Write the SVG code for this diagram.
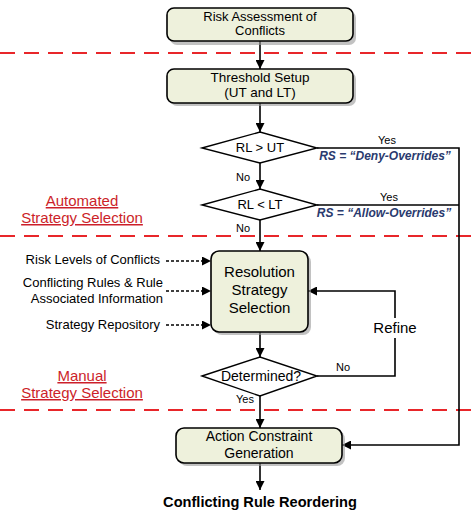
<svg xmlns="http://www.w3.org/2000/svg" width="476" height="513" viewBox="0 0 476 513">
<defs>
<marker id="ah" viewBox="0 0 10 10" refX="10" refY="5" markerWidth="9" markerHeight="9" markerUnits="userSpaceOnUse" orient="auto"><path d="M0,0 L10,5 L0,10 Z" fill="#000"/></marker>
<style>
.box{fill:#eef1dc;stroke:#000;stroke-width:1.6}
.sh{fill:#999;opacity:0.6}
.dia{fill:#fff;stroke:#000;stroke-width:1.4}
.t{font-family:"Liberation Sans",Arial,sans-serif;fill:#000;text-anchor:middle}
.ln{fill:none;stroke:#000;stroke-width:1.6}
.dot{fill:none;stroke:#000;stroke-width:1.4;stroke-dasharray:3 2}
.red{stroke:#e8262a;stroke-width:2;stroke-dasharray:15 9;fill:none}
.sec{font-family:"Liberation Sans",Arial,sans-serif;fill:#cc1f2a;font-size:15px;text-anchor:middle;text-decoration:underline}
.rs{font-family:"Liberation Sans",Arial,sans-serif;fill:#2a3a6e;font-size:12px;font-weight:bold;font-style:italic;text-anchor:middle}
.lbl{font-family:"Liberation Sans",Arial,sans-serif;fill:#000;font-size:11px;text-anchor:middle}
.in{font-family:"Liberation Sans",Arial,sans-serif;fill:#000;font-size:13px;text-anchor:end}
</style>
</defs>
<rect width="476" height="513" fill="#fff"/>
<g id="separators">
<line class="red" x1="0" y1="53" x2="476" y2="53"/>
<line class="red" x1="0" y1="236" x2="476" y2="236"/>
<line class="red" x1="0" y1="410" x2="476" y2="410"/>
</g>
<g id="connectors">
<line class="ln" x1="260" y1="41" x2="260" y2="69" marker-end="url(#ah)"/>
<line class="ln" x1="260" y1="103" x2="260" y2="132" marker-end="url(#ah)"/>
<line class="ln" x1="260" y1="163" x2="260" y2="189" marker-end="url(#ah)"/>
<line class="ln" x1="260" y1="220" x2="260" y2="251" marker-end="url(#ah)"/>
<line class="ln" x1="260" y1="332" x2="260" y2="357" marker-end="url(#ah)"/>
<line class="ln" x1="260" y1="396" x2="260" y2="428" marker-end="url(#ah)"/>
<line class="ln" x1="260" y1="463" x2="260" y2="490" marker-end="url(#ah)"/>
<polyline class="ln" points="317,148 459,148 459,445 342,445" marker-end="url(#ah)"/>
<line class="ln" x1="317" y1="205" x2="459" y2="205"/>
<polyline class="ln" points="317,376 395,376 395,291 308,291" marker-end="url(#ah)"/>
<line class="dot" x1="166" y1="261" x2="211" y2="261" marker-end="url(#ah)"/>
<line class="dot" x1="166" y1="291" x2="211" y2="291" marker-end="url(#ah)"/>
<line class="dot" x1="166" y1="325" x2="211" y2="325" marker-end="url(#ah)"/>
<rect x="372" y="318" width="46" height="20" fill="#fff"/>
<text class="t" x="395" y="333" font-size="15">Refine</text>
<text class="lbl" x="387" y="144">Yes</text>
<text class="rs" x="385" y="160">RS = “Deny-Overrides”</text>
<text class="lbl" x="389" y="201">Yes</text>
<text class="rs" x="384" y="217">RS = “Allow-Overrides”</text>
<text class="lbl" x="243" y="181">No</text>
<text class="lbl" x="243" y="232">No</text>
<text class="lbl" x="343" y="371">No</text>
<text class="lbl" x="245" y="403">Yes</text>
</g>
<g id="risk-assessment">
<rect class="sh" x="170" y="11" width="186" height="34" rx="7"/>
<rect class="box" x="167" y="8" width="186" height="33" rx="7"/>
<text class="t" x="260" y="21" font-size="13">Risk Assessment of</text>
<text class="t" x="260" y="35" font-size="13">Conflicts</text>
</g>
<g id="threshold-setup">
<rect class="sh" x="170" y="72" width="186" height="34" rx="7"/>
<rect class="box" x="167" y="69" width="186" height="34" rx="7"/>
<text class="t" x="260" y="82" font-size="13.5">Threshold Setup</text>
<text class="t" x="260" y="97" font-size="13.5">(UT and LT)</text>
</g>
<g id="rl-gt-ut">
<polygon class="dia" points="202,148 260,132 317,148 260,163"/>
<text class="t" x="260" y="152" font-size="13">RL &gt; UT</text>
</g>
<g id="rl-lt-lt">
<polygon class="dia" points="202,205 260,189 317,205 260,220"/>
<text class="t" x="260" y="209" font-size="13">RL &lt; LT</text>
</g>
<g id="resolution-strategy-selection">
<rect class="sh" x="214" y="254" width="97" height="81" rx="8"/>
<rect class="box" x="211" y="251" width="97" height="81" rx="8"/>
<text class="t" x="259.5" y="277" font-size="15">Resolution</text>
<text class="t" x="259.5" y="295" font-size="15">Strategy</text>
<text class="t" x="259.5" y="313" font-size="15">Selection</text>
</g>
<g id="determined">
<polygon class="dia" points="202,376 260,357 317,376 260,396"/>
<text class="t" x="261" y="381" font-size="14">Determined?</text>
</g>
<g id="action-constraint-generation">
<rect class="sh" x="179" y="431" width="166" height="35" rx="8"/>
<rect class="box" x="176" y="428" width="166" height="35" rx="8"/>
<text class="t" x="259" y="441" font-size="14">Action Constraint</text>
<text class="t" x="259" y="458" font-size="14">Generation</text>
</g>
<g id="output">
<text class="t" x="260" y="507" font-size="14.6" font-weight="bold">Conflicting Rule Reordering</text>
</g>
<g id="inputs">
<text class="in" x="160" y="264">Risk Levels of Conflicts</text>
<text class="in" x="163" y="287">Conflicting Rules &amp; Rule</text>
<text class="in" x="163" y="303">Associated Information</text>
<text class="in" x="160" y="329">Strategy Repository</text>
</g>
<g id="section-labels">
<text class="sec" x="82" y="206">Automated</text>
<text class="sec" x="82" y="223">Strategy Selection</text>
<text class="sec" x="82" y="381">Manual</text>
<text class="sec" x="82" y="398">Strategy Selection</text>
</g>
</svg>
